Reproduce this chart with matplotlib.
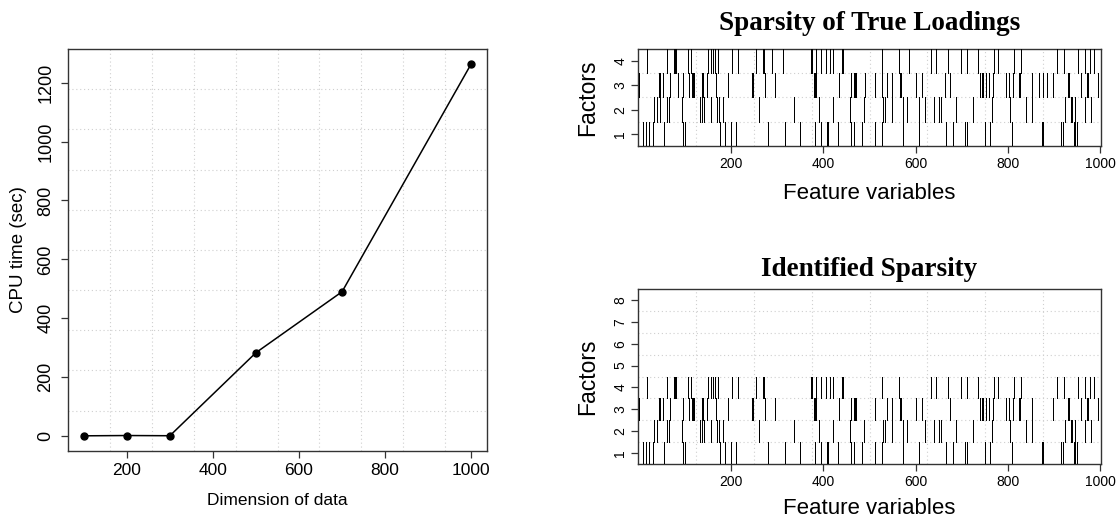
import matplotlib
matplotlib.use('Agg')
import matplotlib.pyplot as plt
import numpy as np

# ---------------- data ----------------
dims = [100, 200, 300, 500, 700, 1000]
cpu_time = [0.5, 1.5, 0.8, 283, 490, 1264]

x_ticks_left = [200, 400, 600, 800, 1000]
y_ticks_left = [0, 200, 400, 600, 800, 1000, 1200]
x_ticks_right = [200, 400, 600, 800, 1000]
n_features = 1000

# non-zero loadings (feature indices) per factor, true loadings
true_f1 = [11, 17, 23, 33, 55, 98, 102, 178, 189, 202, 212, 281, 317, 350, 383, 395,
           409, 411, 433, 461, 467, 485, 513, 528, 574, 608, 666, 680, 707, 712, 750,
           762, 808, 873, 875, 915, 920, 942, 943, 945, 950]
true_f2 = [35, 42, 48, 62, 67, 95, 134, 138, 143, 158, 170, 176, 184, 261, 338, 392,
           421, 458, 489, 530, 533, 549, 550, 572, 581, 608, 621, 640, 650, 655, 688,
           724, 765, 804, 840, 851, 923, 936, 939, 945, 966, 980]
true_f3 = [2, 46, 48, 53, 70, 87, 98, 110, 116, 119, 122, 138, 140, 141, 148, 168, 194,
           247, 248, 275, 296, 381, 383, 384, 435, 460, 468, 470, 472, 491, 513, 528,
           538, 549, 566, 568, 600, 614, 664, 675, 739, 743, 747, 752, 759, 760, 768,
           796, 803, 811, 824, 825, 852, 866, 876, 884, 898, 930, 931, 958, 970, 974, 994]
true_f4 = [20, 62, 77, 80, 83, 108, 114, 152, 157, 161, 166, 172, 204, 217, 255, 271,
           272, 273, 290, 314, 375, 376, 377, 385, 396, 407, 414, 422, 440, 444, 527,
           564, 586, 634, 644, 670, 671, 698, 699, 711, 712, 735, 736, 770, 779, 813,
           829, 906, 922, 952, 966, 977, 987]

# identified sparsity (8 factors, factors 5-8 empty)
id_f1 = [11, 17, 23, 33, 55, 98, 102, 178, 189, 202, 212, 281, 317, 350, 383, 395,
         409, 411, 433, 461, 467, 485, 513, 528, 574, 608, 666, 680, 707, 712, 750,
         762, 808, 873, 875, 915, 920, 942, 943, 945, 950]
id_f2 = [35, 42, 62, 67, 95, 134, 138, 143, 158, 170, 176, 184, 261, 338, 392,
         421, 458, 489, 530, 533, 549, 550, 572, 581, 621, 640, 650, 655, 688,
         724, 765, 804, 840, 851, 923, 936, 939, 945, 966, 980]
id_f3 = [2, 46, 48, 53, 70, 98, 110, 116, 119, 122, 138, 140, 141, 148, 168, 194,
         247, 248, 275, 296, 381, 383, 384, 435, 460, 468, 470, 472, 513,
         538, 549, 566, 568, 600, 614, 675, 739, 743, 747, 752, 759, 760, 768,
         796, 803, 811, 824, 825, 852, 898, 930, 931, 958, 970, 974, 994]
id_f4 = [20, 62, 77, 80, 83, 108, 114, 152, 157, 161, 166, 172, 204, 217, 255, 271,
         272, 273, 375, 376, 377, 385, 396, 407, 414, 422, 440, 444, 527,
         564, 634, 644, 670, 671, 698, 699, 711, 712, 735, 736, 770, 779, 813,
         829, 906, 922, 952, 966, 977, 987]
id_f5 = []
id_f6 = []
id_f7 = []
id_f8 = []

# ---------------- style ----------------
plt.rcParams['font.family'] = ['Liberation Sans', 'DejaVu Sans']
SPINE = '#333333'
GRID = '#cfcfcf'
W, H = 1117, 522

fig = plt.figure(figsize=(W / 100, H / 100), dpi=100)


def px_axes(left, top, right, bottom):
    return fig.add_axes([left / W, 1 - bottom / H, (right - left) / W, (bottom - top) / H])


def style_spines(ax):
    for s in ax.spines.values():
        s.set_color(SPINE)
        s.set_linewidth(1.0)


# ---------------- left panel ----------------
ax = px_axes(68.3, 49, 486.7, 450.7)
ax.margins(0.04)
ax.plot(dims, cpu_time, color='black', lw=1.1, marker='o', ms=5, zorder=3)
ax.set_xticks(x_ticks_left)
ax.set_yticks(y_ticks_left)
ax.set_yticklabels([str(v) for v in y_ticks_left], rotation=90, va='center')
ax.tick_params(direction='out', length=5, width=0.9, color=SPINE, labelsize=12.5, pad=4)
ax.tick_params(axis='y', pad=5, labelsize=13)
xl = ax.get_xlim()
yl = ax.get_ylim()
for gx in np.linspace(xl[0], xl[1], 11)[1:-1]:
    ax.axvline(gx, color=GRID, ls=(0, (1, 2.5)), lw=0.8, zorder=0)
for gy in np.linspace(yl[0], yl[1], 11)[1:-1]:
    ax.axhline(gy, color=GRID, ls=(0, (1, 2.5)), lw=0.8, zorder=0)
ax.set_xlim(xl)
ax.set_ylim(yl)
ax.set_xlabel('Dimension of data', fontsize=12.5)
ax.set_ylabel('CPU time (sec)', fontsize=13.5)
ax.xaxis.set_label_coords(0.5, -0.123)
ax.xaxis.label.set_va('center')
ax.yaxis.set_label_coords(-0.120, 0.5)
ax.yaxis.label.set_va('center')
style_spines(ax)


# ---------------- right panels ----------------
def sparsity_panel(ax, rows, title, title_off, xlab_y):
    nrow = len(rows)
    for r, feats in enumerate(rows, start=1):
        if len(feats):
            ax.vlines(feats, r - 0.5, r + 0.5, colors='black', linewidth=0.45,
                      antialiased=False, zorder=3)
    ax.set_xlim(0.5, n_features + 0.5)
    ax.set_ylim(0.5, nrow + 0.5)
    for k in range(1, 8):
        ax.axvline(0.5 + k * n_features / 8, color=GRID, ls=(0, (1, 2.5)), lw=0.8, zorder=1)
    for r in range(1, nrow):
        ax.axhline(r + 0.5, color=GRID, ls=(0, (1, 2.5)), lw=0.8, zorder=1)
    ax.set_xticks(x_ticks_right)
    ax.set_yticks(list(range(1, nrow + 1)))
    ax.set_yticklabels([str(i) for i in range(1, nrow + 1)], rotation=90, va='center')
    ax.tick_params(direction='out', length=5, width=0.9, color=SPINE, labelsize=10, pad=3)
    ax.set_xlabel('Feature variables', fontsize=16)
    ax.xaxis.set_label_coords(0.5, xlab_y)
    ax.xaxis.label.set_va('center')
    ax.set_ylabel('Factors', fontsize=16.5)
    ax.yaxis.set_label_coords(-0.109, 0.5)
    ax.yaxis.label.set_va('center')
    ax.text(0.5, 1 + title_off, title, transform=ax.transAxes, ha='center', va='center',
            fontsize=19.5, fontweight='bold', family=['Liberation Serif', 'DejaVu Serif'])
    style_spines(ax)


ax1 = px_axes(638.3, 49, 1100.7, 146)
sparsity_panel(ax1, [true_f1, true_f2, true_f3, true_f4],
               'Sparsity of True Loadings', 25 / 97, -48 / 97)

ax2 = px_axes(638.3, 289, 1100.7, 464)
sparsity_panel(ax2, [id_f1, id_f2, id_f3, id_f4, id_f5, id_f6, id_f7, id_f8],
               'Identified Sparsity', 19 / 175, -44 / 175)

fig.savefig('out.png', dpi=100)
